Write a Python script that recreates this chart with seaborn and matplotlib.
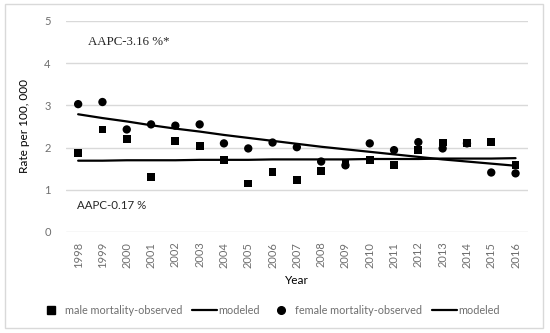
import pandas as pd
import matplotlib.pyplot as plt
import matplotlib.patches as mpatches
from matplotlib.lines import Line2D
import seaborn as sns

# Données
years = list(range(1998, 2017))
male_observed = [1.87, 2.43, 2.20, 1.30, 2.16, 2.04, 1.71, 1.15, 1.42, 1.23,
                 1.45, 1.62, 1.71, 1.59, 1.94, 2.12, 2.10, 2.14, 1.59]
male_modeled = [1.69, 1.69, 1.70, 1.70, 1.70, 1.71, 1.71, 1.71, 1.72, 1.72,
                1.72, 1.72, 1.73, 1.73, 1.73, 1.74, 1.74, 1.74, 1.75]
female_observed = [3.03, 3.08, 2.43, 2.55, 2.52, 2.55, 2.10, 1.98, 2.12, 2.01,
                   1.67, 1.58, 2.10, 1.94, 2.13, 1.98, 2.10, 1.41, 1.39]
female_modeled = [2.79, 2.70, 2.62, 2.53, 2.45, 2.38, 2.30, 2.23, 2.16, 2.09,
                  2.02, 1.96, 1.90, 1.84, 1.78, 1.72, 1.67, 1.62, 1.57]
y_ticks = [0, 1, 2, 3, 4, 5]
aapc_female = "AAPC-3.16 %*"
aapc_male = "AAPC-0.17 %"

df = pd.DataFrame({
    'year': years,
    'male_obs': male_observed,
    'male_mod': male_modeled,
    'female_obs': female_observed,
    'female_mod': female_modeled,
})

sns.set_style("white")
plt.rcParams['font.family'] = ['Lato', 'DejaVu Sans']

grey_txt = '#6f6f6f'

fig = plt.figure(figsize=(5.5, 3.33), dpi=100)
ax = fig.add_axes([66 / 550, 1 - 232 / 333, (527.7 - 66) / 550, (232 - 21) / 333])

# Cadre extérieur
fig.patches.append(mpatches.Rectangle((5 / 550, 5 / 333), 538 / 550, 324 / 333,
                                      transform=fig.transFigure, fill=False,
                                      edgecolor='#d9d9d9', linewidth=1))

sns.lineplot(x='year', y='male_mod', data=df, ax=ax, color='black', linewidth=1.6)
sns.lineplot(x='year', y='female_mod', data=df, ax=ax, color='black', linewidth=1.6)
sns.scatterplot(x='year', y='male_obs', data=df, ax=ax, marker='s', s=32,
                color='black', edgecolor='none', zorder=3)
sns.scatterplot(x='year', y='female_obs', data=df, ax=ax, marker='o', s=36,
                color='black', edgecolor='none', zorder=3)

ax.set_xlim(1997.5, 2016.5)
ax.set_ylim(0, 5)
ax.set_yticks(y_ticks)
ax.set_xticks(years)
ax.set_xticklabels([str(y) for y in years], rotation=90)
ax.tick_params(axis='both', length=0, labelsize=8, colors=grey_txt)
ax.tick_params(axis='x', pad=7)
ax.tick_params(axis='y', pad=11)
ax.grid(axis='y', color='#d9d9d9', linewidth=1)
ax.set_axisbelow(True)
for side in ['top', 'right', 'left', 'bottom']:
    ax.spines[side].set_visible(False)

ax.set_xlabel('Year', fontsize=8.5, color='black', labelpad=5)
ax.set_ylabel('Rate per 100, 000', fontsize=8.5, color='black', labelpad=10)

ax.text(1998.4, 4.5, aapc_female, fontsize=9.3, family='Liberation Serif',
        va='center', ha='left')
ax.text(1997.95, 0.62, aapc_male, fontsize=8.3, va='center', ha='left')

handles = [
    Line2D([], [], marker='s', color='black', linestyle='none', markersize=5.5),
    Line2D([], [], color='black', linewidth=1.6),
    Line2D([], [], marker='o', color='black', linestyle='none', markersize=5.5),
    Line2D([], [], color='black', linewidth=1.6),
]
labels = ['male mortality-observed', 'modeled', 'female mortality-observed', 'modeled']
leg = fig.legend(handles, labels, loc='center', bbox_to_anchor=(0.489, 1 - 310 / 333),
                 ncol=4, frameon=False, fontsize=7.8, handlelength=2.3,
                 handletextpad=0.1, columnspacing=0.9, labelcolor=grey_txt)

plt.savefig('out.png', dpi=100)
